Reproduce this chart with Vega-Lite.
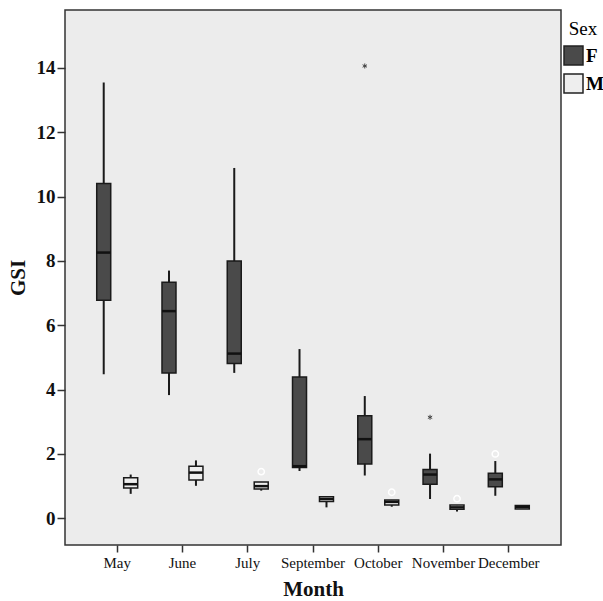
{
  "$schema": "https://vega.github.io/schema/vega-lite/v6.json",
  "width": 496,
  "height": 535,
  "autosize": "none",
  "padding": {"left": 65, "top": 10, "right": 42, "bottom": 56},
  "background": "white",
  "config": {
    "font": "Liberation Serif",
    "view": {"fill": "#ececec", "stroke": "#333333", "strokeWidth": 1.5},
    "axis": {"grid": false, "domain": false, "tickColor": "#333333", "tickWidth": 1.5, "labelColor": "#111111", "titleColor": "#111111", "labelFont": "Liberation Serif", "titleFont": "Liberation Serif"},
    "legend": {"labelFont": "Liberation Serif", "titleFont": "Liberation Serif"}
  },
  "datasets": {
    "boxes": [
      {"Month": "May", "Sex": "F", "lower": 4.48, "q1": 6.78, "median": 8.26, "q3": 10.41, "upper": 13.55},
      {"Month": "June", "Sex": "F", "lower": 3.83, "q1": 4.52, "median": 6.44, "q3": 7.34, "upper": 7.70},
      {"Month": "July", "Sex": "F", "lower": 4.52, "q1": 4.81, "median": 5.12, "q3": 8.00, "upper": 10.89},
      {"Month": "September", "Sex": "F", "lower": 1.47, "q1": 1.58, "median": 1.62, "q3": 4.39, "upper": 5.26},
      {"Month": "October", "Sex": "F", "lower": 1.33, "q1": 1.69, "median": 2.46, "q3": 3.19, "upper": 3.80},
      {"Month": "November", "Sex": "F", "lower": 0.60, "q1": 1.06, "median": 1.36, "q3": 1.52, "upper": 2.01},
      {"Month": "December", "Sex": "F", "lower": 0.70, "q1": 0.98, "median": 1.21, "q3": 1.40, "upper": 1.78},
      {"Month": "May", "Sex": "M", "lower": 0.76, "q1": 0.94, "median": 1.06, "q3": 1.26, "upper": 1.36},
      {"Month": "June", "Sex": "M", "lower": 1.01, "q1": 1.19, "median": 1.42, "q3": 1.62, "upper": 1.80},
      {"Month": "July", "Sex": "M", "lower": 0.86, "q1": 0.91, "median": 1.00, "q3": 1.13, "upper": 1.13},
      {"Month": "September", "Sex": "M", "lower": 0.34, "q1": 0.52, "median": 0.60, "q3": 0.67, "upper": 0.67},
      {"Month": "October", "Sex": "M", "lower": 0.36, "q1": 0.41, "median": 0.51, "q3": 0.57, "upper": 0.57},
      {"Month": "November", "Sex": "M", "lower": 0.21, "q1": 0.28, "median": 0.34, "q3": 0.41, "upper": 0.41},
      {"Month": "December", "Sex": "M", "lower": 0.29, "q1": 0.29, "median": 0.35, "q3": 0.40, "upper": 0.40}
    ],
    "outliers": [
      {"Month": "October", "Sex": "F", "GSI": 14.06, "kind": "extreme"},
      {"Month": "November", "Sex": "F", "GSI": 3.14, "kind": "extreme"},
      {"Month": "December", "Sex": "F", "GSI": 2.0, "kind": "outlier"},
      {"Month": "July", "Sex": "M", "GSI": 1.45, "kind": "outlier"},
      {"Month": "October", "Sex": "M", "GSI": 0.81, "kind": "outlier"},
      {"Month": "November", "Sex": "M", "GSI": 0.61, "kind": "outlier"}
    ]
  },
  "encoding": {
    "x": {
      "field": "Month", "type": "nominal",
      "sort": ["May", "June", "July", "September", "October", "November", "December"],
      "scale": {"paddingInner": 0, "paddingOuter": 0.3},
      "axis": {"labelAngle": 0, "labelFontSize": 15, "tickSize": 7, "labelPadding": 3, "title": "Month", "titleFontSize": 21, "titleFontWeight": "bold", "titlePadding": 8}
    },
    "xOffset": {
      "field": "Sex", "type": "nominal", "sort": ["F", "M"],
      "scale": {"paddingInner": 0, "paddingOuter": 0.21}
    }
  },
  "layer": [
    {
      "data": {"name": "boxes"},
      "mark": {"type": "rule", "strokeWidth": 2, "color": "#1a1a1a"},
      "encoding": {
        "y": {"field": "lower", "type": "quantitative",
          "scale": {"domain": [-0.83, 15.8], "nice": false, "zero": false},
          "axis": {"values": [0, 2, 4, 6, 8, 10, 12, 14], "labelFontSize": 19, "labelFontWeight": "bold", "tickSize": 8, "labelPadding": 2, "title": "GSI", "titleFontSize": 21, "titleFontWeight": "bold", "titlePadding": 8}},
        "y2": {"field": "upper"}
      }
    },
    {
      "data": {"name": "boxes"},
      "mark": {"type": "bar", "size": 14, "stroke": "#1a1a1a", "strokeWidth": 1.5},
      "encoding": {
        "y": {"field": "q1", "type": "quantitative"},
        "y2": {"field": "q3"},
        "fill": {"field": "Sex", "type": "nominal",
          "scale": {"domain": ["F", "M"], "range": ["#4a4a4a", "#eeeeee"]},
          "legend": {"orient": "none", "legendX": 498, "legendY": 10, "title": "Sex", "titleFontSize": 19, "titleFontWeight": "normal", "titleAnchor": "middle", "titlePadding": 6, "symbolType": "square", "symbolSize": 361, "symbolStrokeColor": "#222222", "symbolStrokeWidth": 1.5, "labelFontSize": 19, "labelFontWeight": "bold", "labelOffset": 2, "rowPadding": 3, "padding": 0}}
      }
    },
    {
      "data": {"name": "boxes"},
      "mark": {"type": "tick", "size": 14, "thickness": 2.5, "color": "#111111", "opacity": 1},
      "encoding": {
        "y": {"field": "median", "type": "quantitative"}
      }
    },
    {
      "data": {"name": "outliers"},
      "transform": [{"filter": "datum.kind === 'outlier'"}],
      "mark": {"type": "point", "shape": "circle", "filled": false, "stroke": "#ffffff", "strokeWidth": 1.5, "size": 40, "opacity": 1},
      "encoding": {
        "y": {"field": "GSI", "type": "quantitative"}
      }
    },
    {
      "data": {"name": "outliers"},
      "transform": [{"filter": "datum.kind === 'extreme'"}],
      "mark": {"type": "point", "shape": "M0,-1L0,1M-0.87,-0.5L0.87,0.5M-0.87,0.5L0.87,-0.5", "filled": false, "stroke": "#444444", "strokeWidth": 1, "size": 25, "opacity": 1},
      "encoding": {
        "y": {"field": "GSI", "type": "quantitative"}
      }
    }
  ]
}
